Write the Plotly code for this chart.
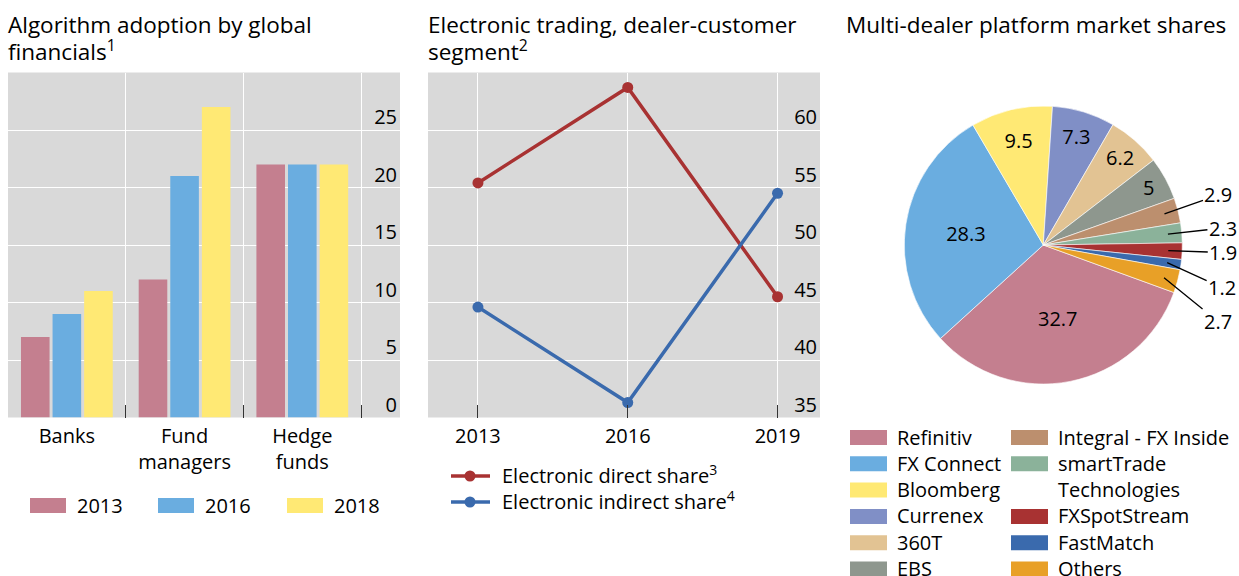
import math
import plotly.graph_objects as go

# ---------------- data ----------------
categories = ["Banks", "Fund managers", "Hedge funds"]
category_ticktext = ["Banks", "Fund<br>managers", "Hedge<br>funds"]
bar_years = ["2013", "2016", "2018"]
adoption_2013 = [7, 12, 22]
adoption_2016 = [9, 21, 22]
adoption_2018 = [11, 27, 22]
bar_ticks = [0, 5, 10, 15, 20, 25]

line_years = [2013, 2016, 2019]
direct_share = [55.4, 63.7, 45.5]
indirect_share = [44.6, 36.3, 54.5]
line_names = ["Electronic direct share<sup>3</sup>", "Electronic indirect share<sup>4</sup>"]
line_ticks = [35, 40, 45, 50, 55, 60]

platforms = ["Refinitiv", "FX Connect", "Bloomberg", "Currenex", "360T", "EBS",
             "Integral - FX Inside", "smartTrade Technologies", "FXSpotStream",
             "FastMatch", "Others"]
market_shares = [32.7, 28.3, 9.5, 7.3, 6.2, 5, 2.9, 2.3, 1.9, 1.2, 2.7]

titles = [["Algorithm adoption by global", "financials<sup>1</sup>"],
          ["Electronic trading, dealer-customer", "segment<sup>2</sup>"],
          ["Multi-dealer platform market shares"]]

# ---------------- style ----------------
W, H = 1239, 576
FONT = "Open Sans"
BG = "#d9d9d9"
bar_colors = ["#c47f8f", "#6aade0", "#ffe974"]
line_colors = ["#a83232", "#3a6aad"]
pie_colors = ["#c47f8f", "#6aade0", "#ffe974", "#808fc6", "#e2c393", "#8e978e",
              "#bc8f6e", "#8bb29a", "#a83232", "#3a6aad", "#e8a027"]
TS = 20      # tick / legend font size
TITLE_S = 22.5


def px(x):
    return x / W


def py(y):
    return 1 - y / H


y_dom = [py(417.5), py(72.5)]

fig = go.Figure()

bar_series = [adoption_2013, adoption_2016, adoption_2018]
for name, vals, col in zip(bar_years, bar_series, bar_colors):
    fig.add_trace(go.Bar(x=categories, y=vals, name=name, marker_color=col,
                         marker_line_width=0, xaxis="x", yaxis="y", showlegend=False))

for name, vals, col in zip(line_names, [direct_share, indirect_share], line_colors):
    fig.add_trace(go.Scatter(x=line_years, y=vals, name=name, mode="lines+markers",
                             line=dict(color=col, width=3.5),
                             marker=dict(color=col, size=11),
                             xaxis="x2", yaxis="y2", showlegend=False))

# pie
cx, cy, r = 1043.3, 245.0, 139.0
rotation = 110
n_inside = 6
fig.add_trace(go.Pie(
    labels=platforms, values=market_shares, sort=False, direction="clockwise",
    rotation=rotation,
    marker=dict(colors=pie_colors, line=dict(color="white", width=0.6)),
    texttemplate="%{value}",
    textposition=["inside"] * n_inside + ["none"] * (len(platforms) - n_inside),
    insidetextorientation="horizontal",
    textfont=dict(family=FONT, size=TS, color="black"),
    domain=dict(x=[px(cx - r), px(cx + r)], y=[py(cy + r), py(cy - r)]),
    showlegend=False, automargin=False,
))

annotations = []
shapes = []

# outside labels with leader lines for small slices
label_offsets = [(54, -19), (55, -6), (55, 2), (55, 25), (54, 44)]
total = sum(market_shares)
cum = 0.0
mids = []
for v in market_shares:
    mids.append(rotation + (cum + v / 2) * 360 / total)
    cum += v
for k, i in enumerate(range(n_inside, len(platforms))):
    a = math.radians(mids[i])
    x0 = cx + 0.9 * r * math.sin(a)
    y0 = cy - 0.9 * r * math.cos(a)
    ax, ay = label_offsets[k]
    annotations.append(dict(x=px(x0), y=py(y0), xref="paper", yref="paper",
                            text=str(market_shares[i]), showarrow=True, arrowhead=0,
                            arrowwidth=1.3, arrowcolor="black", ax=ax, ay=ay,
                            font=dict(family=FONT, size=TS, color="black")))

# titles
title_pos = [8, 428, 846]
for lines, x in zip(titles, title_pos):
    for j, t in enumerate(lines):
        annotations.append(dict(x=px(x - 2), y=py(7 + 25 * j), xref="paper", yref="paper",
                                xanchor="left", yanchor="top", text=t, showarrow=False,
                                align="left",
                                font=dict(family=FONT, size=TITLE_S, color="black")))

# bar legend
bar_leg_x = [30, 158, 287]
for name, col, x in zip(bar_years, bar_colors, bar_leg_x):
    shapes.append(dict(type="rect", xref="paper", yref="paper", x0=px(x), x1=px(x + 36),
                       y0=py(513), y1=py(498), fillcolor=col, line_width=0))
    annotations.append(dict(x=px(x + 45), y=py(505), xref="paper", yref="paper",
                            xanchor="left", yanchor="middle", text=name, showarrow=False,
                            font=dict(family=FONT, size=TS, color="black")))

# line legend
for j, (name, col) in enumerate(zip(line_names, line_colors)):
    yy = 476 + 26 * j
    shapes.append(dict(type="line", xref="paper", yref="paper", x0=px(451), x1=px(490),
                       y0=py(yy), y1=py(yy), line=dict(color=col, width=3.5)))
    shapes.append(dict(type="circle", xref="paper", yref="paper", x0=px(464.5), x1=px(475.5),
                       y0=py(yy + 5.5), y1=py(yy - 5.5), fillcolor=col, line_width=0))
    annotations.append(dict(x=px(500), y=py(yy - 1.5), xref="paper", yref="paper",
                            xanchor="left", yanchor="middle", text=name, showarrow=False,
                            font=dict(family=FONT, size=TS, color="black")))

# pie legend (two columns)
col_x = [850, 1011]
row_h = 26.3
rows = [(0, 0), (0, 1), (0, 2), (0, 3), (0, 4), (0, 5),
        (1, 0), (1, 1), (1, 3), (1, 4), (1, 5)]
for name, col, (c, rr) in zip(platforms, pie_colors, rows):
    yc = 437.5 + rr * row_h
    x = col_x[c]
    shapes.append(dict(type="rect", xref="paper", yref="paper", x0=px(x), x1=px(x + 37),
                       y0=py(yc + 7.5), y1=py(yc - 7.5), fillcolor=col, line_width=0))
    label = name.replace("smartTrade ", "smartTrade<br>")
    annotations.append(dict(x=px(x + 45), y=py(yc - 16), xref="paper", yref="paper",
                            xanchor="left", yanchor="top", text=label, showarrow=False,
                            align="left",
                            font=dict(family=FONT, size=TS, color="black")))

axis_common = dict(showline=False, zeroline=False, gridcolor="white", gridwidth=1.3,
                   automargin=False,
                   tickfont=dict(family=FONT, size=TS, color="black"))
xaxis_common = dict(ticks="inside", ticklen=13, tickwidth=1.3, tickcolor="#333333",
                    ticklabelstandoff=4, showgrid=True)
yaxis_common = dict(domain=y_dom, side="right", ticklabelposition="inside", ticks="",
                    ticklabelshift=-13, ticklabeloverflow="allow", showgrid=True)

fig.update_layout(
    width=W, height=H, margin=dict(l=0, r=0, t=0, b=0, autoexpand=False),
    paper_bgcolor="white", plot_bgcolor=BG,
    barmode="group", bargap=0.195, bargroupgap=0.095,
    font=dict(family=FONT, size=TS, color="black"),
    xaxis=dict(domain=[px(8), px(400)], type="category", range=[-0.5, 2.83],
               tickvals=categories, ticktext=category_ticktext, tickson="boundaries",
               anchor="y", **xaxis_common, **axis_common),
    yaxis=dict(range=[0, 30], tickvals=bar_ticks, anchor="x", **yaxis_common, **axis_common),
    xaxis2=dict(domain=[px(428), px(820)], range=[2012, 2019.85], tickvals=line_years,
                anchor="y2", **xaxis_common, **axis_common),
    yaxis2=dict(range=[35, 65], tickvals=line_ticks, anchor="x2", **yaxis_common, **axis_common),
    annotations=annotations, shapes=shapes,
)

fig.write_html("out.html", config={"displayModeBar": False},
               post_script="document.body.style.margin='0';document.body.style.overflow='hidden';")
